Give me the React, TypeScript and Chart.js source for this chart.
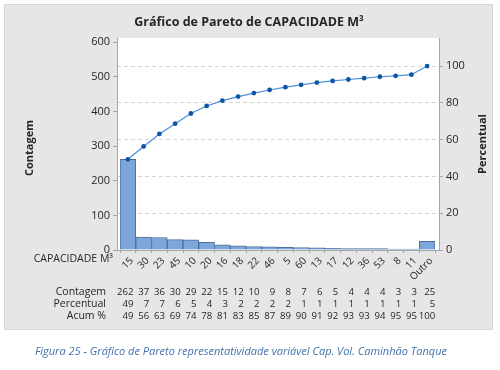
import React, { useEffect, useRef } from "react";
import { Chart, registerables } from "chart.js";

Chart.register(...registerables);

const categories = ["15", "30", "23", "45", "10", "20", "16", "18", "22", "46", "5", "60", "13", "17", "12", "36", "53", "8", "11", "Outro"];
const counts = [262, 37, 36, 30, 29, 22, 15, 12, 10, 9, 8, 7, 6, 5, 4, 4, 4, 3, 3, 25];
const percents = [49, 7, 7, 6, 5, 4, 3, 2, 2, 2, 2, 1, 1, 1, 1, 1, 1, 1, 1, 5];
const cumulativeLabels = [49, 56, 63, 69, 74, 78, 81, 83, 85, 87, 89, 90, 91, 92, 93, 93, 94, 95, 95, 100];
const cumulativeLine = [49.3, 56.3, 63.1, 68.7, 74.2, 78.3, 81.2, 83.4, 85.3, 87.0, 88.5, 89.8, 91.0, 91.9, 92.7, 93.4, 94.2, 94.7, 95.3, 100];
const leftTicks = [0, 100, 200, 300, 400, 500, 600];
const rightTicks = [0, 20, 40, 60, 80, 100];
const countAxisMax = 612;
const totalCount = 531;

const titleText = "Gráfico de Pareto de CAPACIDADE M³";
const xAxisName = "CAPACIDADE M³";
const leftAxisName = "Contagem";
const rightAxisName = "Percentual";
const tableRowNames = ["Contagem", "Percentual", "Acum %"];
const captionText = "Figura 25 - Gráfico de Pareto representatividade variável Cap. Vol. Caminhão Tanque";

const FONT = '"Open Sans", "Noto Sans", "DejaVu Sans", sans-serif';
const TEXT = "#262626";
const AXIS = "#a6a6a6";

const decor = {
  id: "paretoDecor",
  afterLayout(chart: any) {
    const x = chart.scales.x;
    x.left = chart.chartArea.left + 3;
    x.right = chart.chartArea.right - 4;
    x.width = x.right - x.left;
    x.configure();
  },
  beforeDraw(chart: any) {
    const ctx = chart.ctx;
    const a = chart.chartArea;
    ctx.save();
    ctx.fillStyle = "#ffffff";
    ctx.fillRect(0, 0, chart.width, chart.height);
    ctx.fillStyle = "#e6e6e6";
    ctx.fillRect(4, 4, 489, 326);
    ctx.strokeStyle = "#d6d6d6";
    ctx.lineWidth = 1;
    ctx.strokeRect(4.5, 4.5, 488, 325);
    ctx.fillStyle = "#ffffff";
    ctx.fillRect(a.left, a.top, a.right - a.left, a.bottom - a.top);
    ctx.restore();
  },
  afterDraw(chart: any) {
    const ctx = chart.ctx;
    const a = chart.chartArea;
    const x = chart.scales.x;
    ctx.save();
    ctx.strokeStyle = AXIS;
    ctx.lineWidth = 1;
    ctx.beginPath();
    ctx.moveTo(a.left, a.bottom + 0.5);
    ctx.lineTo(a.right, a.bottom + 0.5);
    ctx.stroke();

    ctx.fillStyle = TEXT;
    ctx.textBaseline = "middle";
    ctx.font = `bold 12.5px ${FONT}`;
    ctx.textAlign = "center";
    ctx.fillText(titleText, 249, 22);

    ctx.font = `bold 11px ${FONT}`;
    ctx.save();
    ctx.translate(30, 148);
    ctx.rotate(-Math.PI / 2);
    ctx.fillText(leftAxisName, 0, 0);
    ctx.restore();
    ctx.save();
    ctx.translate(483, 144);
    ctx.rotate(-Math.PI / 2);
    ctx.fillText(rightAxisName, 0, 0);
    ctx.restore();

    ctx.font = `10.5px ${FONT}`;
    ctx.textAlign = "right";
    ctx.fillText(xAxisName, 113, 259);

    const rows = [counts, percents, cumulativeLabels];
    const ys = [292, 304, 316];
    rows.forEach((row, r) => {
      ctx.font = `10.5px ${FONT}`;
      ctx.textAlign = "right";
      ctx.fillText(tableRowNames[r], 106, ys[r]);
      ctx.font = `9.6px ${FONT}`;
      row.forEach((v, i) => {
        const shift = i === row.length - 1 ? 8 : 5.5;
        const px = x.getPixelForValue(i) + shift;
        ctx.fillText(String(v), px, ys[r]);
      });
    });

    ctx.font = `italic 11px ${FONT}`;
    ctx.fillStyle = "#4272ab";
    ctx.textAlign = "center";
    ctx.fillText(captionText, 241, 352);
    ctx.restore();
  },
};

export default function App() {
  const ref = useRef<HTMLCanvasElement>(null);
  useEffect(() => {
    if (!ref.current) return;
    const chart = new Chart(ref.current, {
      data: {
        labels: categories,
        datasets: [
          {
            type: "line",
            label: "Acum %",
            data: cumulativeLine,
            yAxisID: "y1",
            borderColor: "#4a8fd8",
            borderWidth: 1.2,
            pointRadius: 2.4,
            pointBackgroundColor: "#0d55a6",
            pointBorderWidth: 0,
            order: 0,
          },
          {
            type: "bar",
            label: "Contagem",
            data: counts,
            yAxisID: "y",
            backgroundColor: "#7da7da",
            borderColor: "#4f6f98",
            borderWidth: 1,
            barPercentage: 1,
            categoryPercentage: 1,
            order: 1,
          },
        ],
      } as any,
      options: {
        animation: false,
        responsive: false,
        devicePixelRatio: 1,
        layout: { padding: { top: 38, left: 0, right: 0, bottom: 0 } },
        plugins: {
          legend: { display: false },
          tooltip: { enabled: false },
          title: { display: false },
        },
        scales: {
          x: {
            type: "category",
            offset: true,
            border: { display: false },
            grid: { display: true, drawOnChartArea: false, tickLength: 3, color: AXIS },
            ticks: {
              minRotation: 45,
              maxRotation: 45,
              padding: 2,
              labelOffset: 4,
              autoSkip: false,
              color: TEXT,
              font: { family: FONT, size: 10 },
            },
            afterFit: (s: any) => {
              s.height = 120;
            },
          },
          y: {
            type: "linear",
            position: "left",
            min: 0,
            max: countAxisMax,
            border: { display: true, color: AXIS },
            grid: { drawOnChartArea: false, tickLength: 4, color: AXIS },
            ticks: { color: TEXT, padding: 3, font: { family: FONT, size: 11 } },
            afterBuildTicks: (s: any) => {
              s.ticks = leftTicks.map((v) => ({ value: v }));
            },
            afterFit: (s: any) => {
              s.width = 117;
            },
          },
          y1: {
            type: "linear",
            position: "right",
            min: 0,
            max: (countAxisMax / totalCount) * 100,
            border: { display: true, color: AXIS, dash: [4, 3] },
            grid: {
              drawOnChartArea: true,
              tickLength: 4,
              color: "#d4d4d4",
              tickColor: AXIS,
              tickBorderDash: [],
            } as any,
            ticks: { color: TEXT, padding: 3, font: { family: FONT, size: 11 } },
            afterBuildTicks: (s: any) => {
              s.ticks = rightTicks.map((v) => ({ value: v }));
            },
            afterFit: (s: any) => {
              s.width = 61;
            },
          },
        },
      } as any,
      plugins: [decor],
    } as any);
    return () => chart.destroy();
  }, []);
  return (
    <div style={{ position: "fixed", left: 0, top: 0, width: 500, height: 370 }}>
      <canvas ref={ref} width={500} height={370} style={{ display: "block" }} />
    </div>
  );
}
